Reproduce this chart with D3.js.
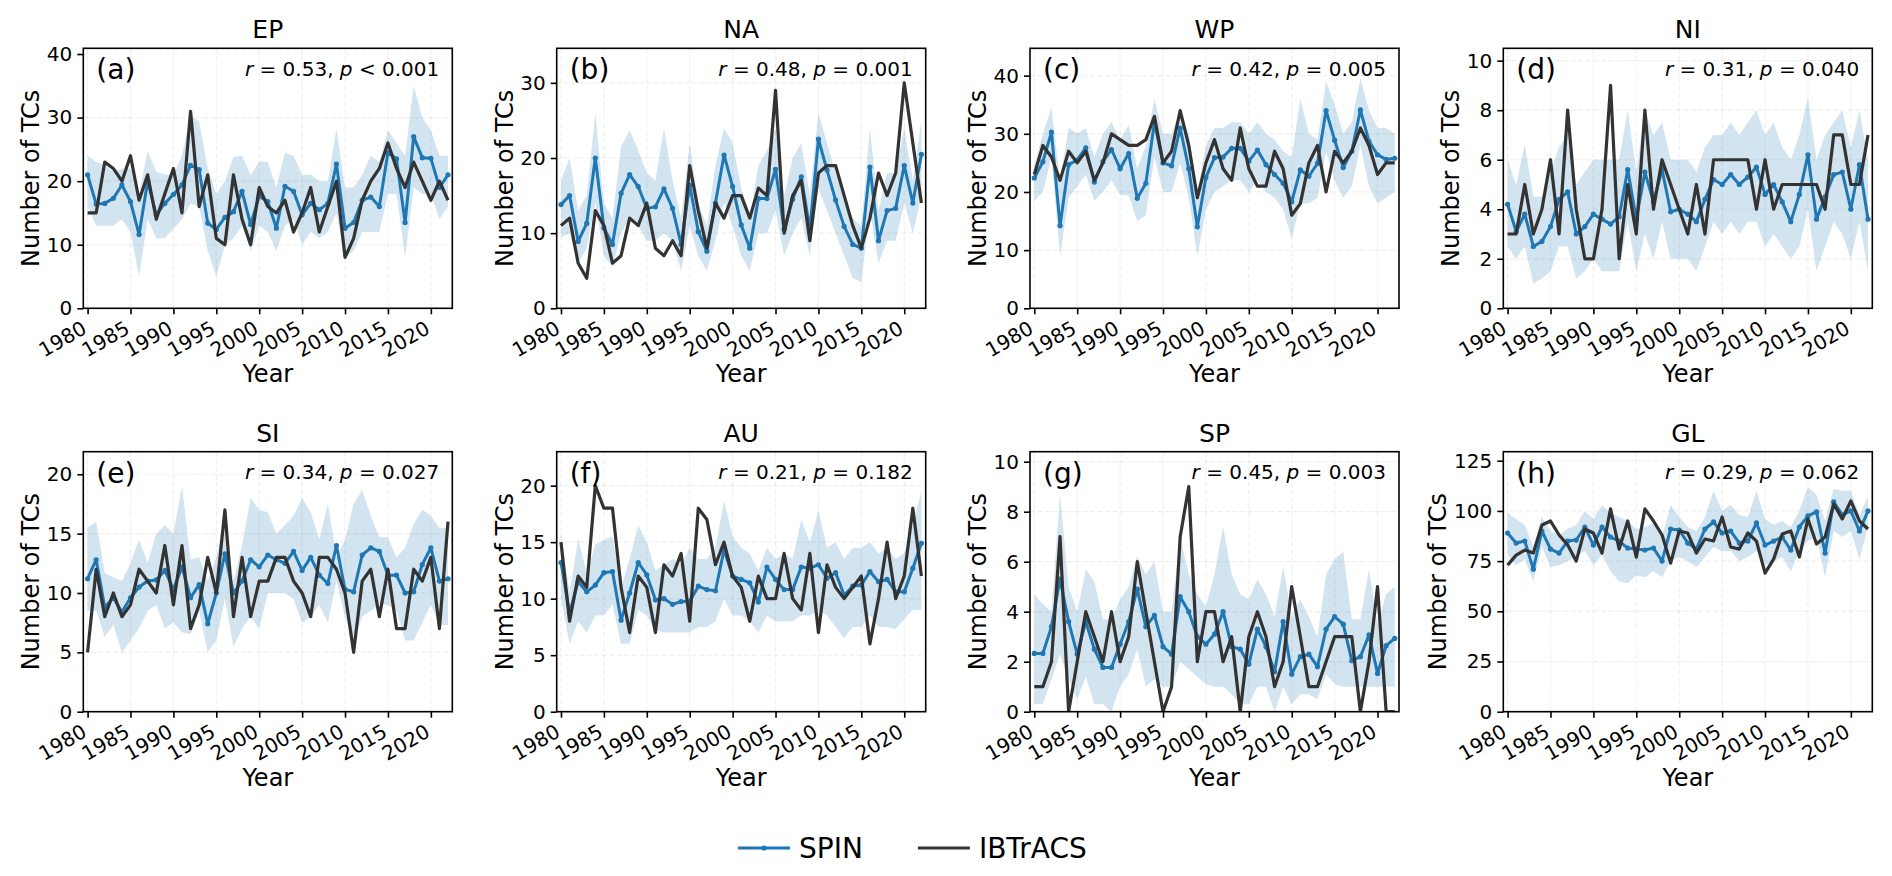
<!DOCTYPE html>
<html>
<head>
<meta charset="utf-8">
<script src="https://cdn.jsdelivr.net/npm/d3@7/dist/d3.min.js"></script>
<style>
  body { margin: 0; background: #fff; }
  svg { display: block; }
  text { font-family: "DejaVu Sans", sans-serif; fill: #000; }
</style>
</head>
<body>
<div id="chart"></div>
<script>
// ========== DATA ==========
const years = [1980, 1981, 1982, 1983, 1984, 1985, 1986, 1987, 1988, 1989,
  1990, 1991, 1992, 1993, 1994, 1995, 1996, 1997, 1998, 1999,
  2000, 2001, 2002, 2003, 2004, 2005, 2006, 2007, 2008, 2009,
  2010, 2011, 2012, 2013, 2014, 2015, 2016, 2017, 2018, 2019,
  2020, 2021, 2022];
const xTicks = [1980, 1985, 1990, 1995, 2000, 2005, 2010, 2015, 2020];

const regions = ["EP", "NA", "WP", "NI", "SI", "AU", "SP", "GL"];
const panelTags = ["(a)", "(b)", "(c)", "(d)", "(e)", "(f)", "(g)", "(h)"];
const rValues = ["0.53", "0.48", "0.42", "0.31", "0.34", "0.21", "0.45", "0.29"];
const pValues = ["< 0.001", "= 0.001", "= 0.005", "= 0.040", "= 0.027", "= 0.182", "= 0.003", "= 0.062"];
const yTicks = [
  [0, 10, 20, 30, 40], [0, 10, 20, 30], [0, 10, 20, 30, 40], [0, 2, 4, 6, 8, 10],
  [0, 5, 10, 15, 20], [0, 5, 10, 15, 20], [0, 2, 4, 6, 8, 10], [0, 25, 50, 75, 100, 125]
];
const yMax = [40.9, 34.6, 44.7, 10.5, 21.9, 23.0, 10.4, 129.5];

// EP
const spinEP = [21, 16.4, 16.5, 17.3, 19.4, 16.8, 11.6, 20, 14.7, 16.5, 17.9, 19.4, 22.5, 21.8, 13.4, 12.4, 14.3, 15.2, 18.4, 13.2, 17.6, 16.8, 12.6, 19.2, 18.4, 14.7, 16.5, 15.5, 16.5, 22.7, 12.6, 13.5, 17, 17.5, 16, 24.5, 23.5, 13.5, 27, 23.7, 23.6, 19, 21];
const loEP = [16, 13, 13, 13, 14, 12, 5, 14, 11, 11, 12.5, 14, 16.5, 16, 9, 5, 10, 11, 13, 9, 13, 12, 9, 13, 14, 10, 12, 11, 12, 15, 8, 9, 12, 12, 12, 18, 18, 8, 19, 18, 18, 14, 16];
const hiEP = [24, 23, 22.5, 21.5, 22, 22, 18, 24.7, 21.5, 21, 21, 24, 30.4, 29.4, 22, 18, 20, 23.8, 24, 21, 23.1, 23, 19, 24.5, 24, 21, 21, 20, 20, 28.2, 19, 19, 21, 24, 23, 28, 26, 24, 35, 30, 28, 24, 24];
const obsEP = [15, 15, 23, 22, 20, 24, 17, 21, 14, 18, 22, 15, 31, 16, 21, 11, 10, 21, 14, 10, 19, 16, 15, 17, 12, 15, 19, 12, 16, 20, 8, 11, 17, 20, 22, 26, 22, 19, 23, 20, 17, 20, 17];

// NA
const spinNA = [13.8, 15, 8.9, 11.3, 20, 10.7, 8.5, 15.3, 17.8, 16.2, 13.3, 13.5, 15.9, 13.3, 8.5, 16.4, 10.2, 7.6, 14, 20.4, 16.2, 11.1, 8, 14.6, 14.6, 18.5, 10.5, 14.5, 17.5, 10.5, 22.5, 18.4, 14.4, 10.9, 8.5, 8, 18.8, 9, 13, 13.3, 19, 14, 20.5];
const loNA = [9.5, 10, 6, 8, 14, 7, 5.5, 10, 12, 11, 9, 9, 10, 9, 5, 11, 7, 5, 9, 14, 11, 7, 5, 10, 10, 13, 7, 10, 12, 7, 16, 13, 10, 7, 4, 3.5, 13, 6, 9, 9, 14, 10, 15];
const hiNA = [17, 20, 13, 15, 26, 14, 12, 21.5, 23.7, 21, 18, 17, 24, 17, 12, 22, 14, 11, 19, 24, 22, 16, 12, 19, 21, 24, 15, 20, 22, 15, 26, 22, 18, 15, 12, 11, 24, 13, 18, 18, 24, 17, 25];
const obsNA = [11, 12, 6, 4, 13, 11, 6, 7, 12, 11, 14, 8, 7, 9, 7, 19, 13, 8, 14, 12, 15, 15, 12, 16, 15, 29, 10, 15, 17, 9, 18, 19, 19, 15, 11, 8, 12, 18, 15, 18, 30, 22, 14];

// WP
const spinWP = [22.4, 25.2, 30.3, 14.2, 24.7, 25.5, 27.6, 21.7, 25.2, 27.3, 24, 26.6, 18.9, 21.5, 32, 25, 24.5, 31, 24, 14, 22.5, 25.9, 26, 27.5, 27.5, 25.3, 27.2, 24.7, 23, 21.5, 18.3, 23.8, 22.7, 24.9, 34, 28.9, 24.2, 27, 34.1, 28.7, 26.4, 25.6, 25.8];
const loWP = [18.5, 20, 26, 9, 19, 21, 23, 18.5, 20, 22, 19.5, 19.5, 15, 16, 26, 20, 20, 25, 19, 9, 17, 20, 21, 22, 22, 20, 22, 20, 19, 17, 12, 18, 18, 19, 27, 22, 19, 21, 28, 21, 18, 19, 20];
const hiWP = [24.5, 30, 34.5, 22, 31, 30, 31, 26, 30, 32, 29, 31.5, 24, 28, 36, 30, 30, 34, 30, 20, 28, 31, 31, 32, 32, 30, 32, 30, 29, 27, 26, 36, 30, 29, 39, 35, 30, 32, 39.5, 34, 31, 31, 30];
const obsWP = [23, 28, 26, 22, 27, 25, 27, 22, 25, 30, 29, 28, 28, 29, 33, 25, 27, 34, 28, 19, 25, 29, 24, 22, 31, 24, 21, 21, 27, 24, 16, 18, 25, 28, 20, 27, 25, 27, 31, 28, 23, 25, 25];

// NI
const spinNI = [4.2, 3.1, 3.8, 2.5, 2.7, 3.3, 4.4, 4.7, 3, 3.3, 3.8, 3.6, 3.4, 3.7, 5.6, 3.6, 5.5, 4.3, 5.6, 3.9, 4, 3.8, 3.5, 4.4, 5.2, 5, 5.4, 5, 5.3, 5.7, 4.6, 5, 4.3, 3.5, 4.6, 6.2, 3.6, 4.5, 5.4, 5.5, 4, 5.8, 3.6];
const loNI = [2.5, 2, 2.5, 1, 1.2, 1.5, 2.5, 2.5, 1.2, 1.5, 2, 1.5, 1.5, 1.5, 3.5, 1.5, 3, 2, 3.5, 2, 2, 2, 1.5, 2.5, 3.5, 3, 3.5, 3, 3.5, 3.5, 2.5, 3, 2.5, 2, 2.5, 4, 1.5, 2.5, 3.5, 3, 2, 3.5, 1.5];
const hiNI = [6, 5, 6.6, 4.5, 4.5, 5.5, 6.5, 7, 5, 5.5, 6, 6, 6, 6, 8, 5.5, 8, 7, 7.5, 6, 6, 6, 5.5, 6.5, 7, 7, 7.5, 7, 7.5, 8, 7, 7.5, 6.5, 6, 7, 8.5, 6, 7, 7.5, 8, 6.5, 8, 6];
const obsNI = [3, 3, 5, 3, 4, 6, 3, 8, 4, 2, 2, 4, 9, 2, 5, 3, 8, 4, 6, 5, 4, 3, 5, 3, 6, 6, 6, 6, 6, 4, 6, 4, 5, 5, 5, 5, 5, 4, 7, 7, 5, 5, 7];

// SI
const spinSI = [11.2, 12.8, 8.8, 9.6, 8.4, 9.6, 10.5, 11, 11.1, 11.9, 10.3, 12.2, 9.6, 10.7, 7.4, 10, 13.3, 10, 11, 12.8, 12.2, 13.2, 12.8, 12.5, 13.5, 11.9, 13, 11.5, 10.8, 14, 10.3, 10.1, 13.2, 13.8, 13.5, 11.5, 11.5, 10, 10.1, 12.4, 13.8, 11, 11.2];
const loSI = [8.5, 8.5, 6.3, 7.3, 5, 6, 7, 8.5, 9, 7, 7.5, 6.7, 6.5, 8.5, 5, 6, 9.5, 5.5, 7, 8, 7, 10, 10, 10, 9.5, 7.5, 8, 9, 7.5, 11, 8, 6, 8, 8.5, 9, 9, 8.5, 6, 6, 7.5, 9, 7.3, 7.3];
const hiSI = [15.5, 16, 11.7, 11.3, 11, 12.5, 14.5, 12.5, 15, 15.7, 15, 19, 12.8, 13, 11, 13, 16.5, 11, 14, 18, 17, 16.8, 15, 15.7, 16.5, 18, 16.8, 14.5, 17.5, 13, 14.5, 17.5, 18.7, 16.5, 14.7, 14.7, 13, 13.8, 15.8, 17, 16.5, 15.5, 15.5];
const obsSI = [5, 12, 8, 10, 8, 9, 12, 11, 10, 14, 9, 14, 7, 9, 13, 10, 17, 8, 13, 8, 11, 11, 13, 13, 11, 10, 8, 13, 13, 12, 10, 5, 11, 12, 8, 12, 7, 7, 12, 11, 13, 7, 16];

// AU
const spinAU = [13.2, 8.7, 11.5, 10.6, 11.2, 12.3, 12.4, 8.1, 10.5, 13.2, 12.1, 9.9, 10, 9.5, 9.75, 9.75, 11.1, 10.8, 10.7, 14.3, 12, 11.7, 11.4, 9.7, 12.8, 11.7, 10.8, 10.8, 12.8, 12.7, 13, 11.8, 12.3, 10.3, 11.1, 11.2, 12.4, 11.5, 11.7, 10.6, 10.6, 12.7, 14.9];
const loAU = [10, 6, 8, 7, 8.5, 8.5, 9.5, 6, 6, 9, 8.5, 7.2, 7, 7, 7, 7, 7.5, 7.5, 8, 10, 8.5, 8.5, 8, 7, 8.5, 8, 8, 8, 8.5, 8.5, 9, 8.5, 7.5, 6.5, 7.5, 7.5, 8.5, 7.5, 7.5, 7.3, 8.2, 9, 9];
const hiAU = [15.8, 10.5, 15.3, 12.3, 14.8, 15.2, 15.5, 11, 13.5, 16.5, 15, 12.5, 13, 13.5, 13, 14.5, 13.5, 13.5, 14.5, 18.7, 15.5, 14.5, 14, 12.5, 14.5, 13.5, 14, 13.5, 17, 15, 17.8, 14.5, 15, 13.5, 14.5, 14.5, 15, 14, 14.5, 13.5, 14, 16.5, 19.5];
const obsAU = [15, 8, 12, 11, 20, 18, 18, 11, 7, 12, 11, 7, 13, 12, 14, 8, 18, 17, 13, 15, 12, 11, 8, 12, 10, 10, 14, 10, 9, 14, 7, 13, 11, 10, 11, 12, 6, 10, 15, 10, 12, 18, 12];

// SP
const spinSP = [2.33, 2.33, 3.4, 5.3, 3.6, 2.3, 3.6, 2.5, 1.77, 1.77, 2.7, 3.6, 4.9, 3.4, 3.85, 2.6, 2.3, 4.6, 4, 3, 2.7, 3.1, 4, 2.6, 2.5, 1.9, 3.3, 2.6, 1.6, 3.6, 1.5, 2.2, 2.3, 1.8, 3.3, 3.8, 3.5, 2.04, 2.2, 3.07, 1.53, 2.64, 2.93];
const loSP = [0.3, 0.3, 1.3, 2.3, 1.3, 0.5, 1.4, 0.3, 0.3, 0, 1, 1.5, 2.5, 1, 1.3, 1, 1, 2, 1.7, 1.4, 1.1, 1, 1, 0.7, 0.3, 0.3, 1, 1, 0, 1, 0.3, 0.7, 0.7, 0.5, 1.5, 1.1, 1, 1, 1, 1, 1, 1, 1];
const hiSP = [4.7, 4.3, 4, 8.7, 5, 4, 5.7, 5.2, 3.7, 3.7, 4.5, 5, 6.2, 5.5, 6, 4, 4, 7, 5.5, 4.7, 4.2, 5.5, 7.4, 5.5, 4.7, 4.5, 5.3, 4.7, 3.8, 5.8, 3.8, 4.5, 3.8, 3, 5.5, 6.1, 6.4, 3.7, 3.7, 5.7, 3.5, 4.7, 5];
const obsSP = [1, 1, 2, 7, 0, 2, 4, 3, 2, 4, 2, 3, 6, 4, 2, 0, 1, 7, 9, 2, 4, 4, 2, 3, 0, 3, 4, 3, 1, 2, 5, 3, 1, 1, 2, 3, 3, 3, 0, 2, 5, 0, 0];

// GL
const spinGL = [89, 84, 85, 71, 90, 81, 79, 85, 85.5, 92, 83, 92, 87, 85, 81.5, 81, 80.5, 81.5, 75, 91, 90.5, 84, 81, 91, 94.5, 89, 90, 84, 85, 94, 83, 85, 87, 80.5, 92, 97.5, 99.5, 79, 104.5, 98, 100, 90, 100];
const loGL = [78, 73, 76, 65, 82, 72, 73, 75, 77, 80, 73, 78, 70, 65, 64, 68, 67, 70, 67, 75, 77, 75, 72, 77, 82, 80, 80, 75, 77, 80, 73, 75, 77, 70, 80, 85, 87, 67, 90, 87, 90, 76, 92];
const hiGL = [99, 96, 93, 82, 97, 90, 88, 91, 93, 100, 96, 103, 99, 97, 95, 91, 92, 94, 87, 103, 97, 92, 90, 97, 110, 100, 103, 98, 97, 110, 96, 93, 95, 92, 100, 112, 108, 95, 111, 110, 110, 98, 107];
const obsGL = [73, 78, 80.5, 79, 93, 95, 88, 83, 75, 91, 89, 79, 101, 81, 95, 77, 101, 95, 88, 74, 90, 89, 79, 86, 85, 97, 82, 81, 89, 85, 69, 76, 88.5, 90, 77, 96, 83.5, 87, 103.5, 96, 105, 95, 91];

const spinSeries = [spinEP, spinNA, spinWP, spinNI, spinSI, spinAU, spinSP, spinGL];
const loSeries = [loEP, loNA, loWP, loNI, loSI, loAU, loSP, loGL];
const hiSeries = [hiEP, hiNA, hiWP, hiNI, hiSI, hiAU, hiSP, hiGL];
const obsSeries = [obsEP, obsNA, obsWP, obsNI, obsSI, obsAU, obsSP, obsGL];

// ========== LAYOUT ==========
const width = 1892, height = 876;
const panelLefts = [83.3, 556.7, 1030, 1503.3];
const panelTops = [48.3, 451.7];
const panelW = 369, panelH = 260;
const spinColor = "#1f77b4";
const obsColor = "#333333";

const svg = d3.select("#chart").append("svg")
  .attr("width", width)
  .attr("height", height)
  .attr("viewBox", `0 0 ${width} ${height}`);

function drawPanel(k) {
  const left = panelLefts[k % 4];
  const top = panelTops[Math.floor(k / 4)];
  const g = svg.append("g").attr("transform", `translate(${left},${top})`);

  const x = d3.scaleLinear().domain([1979.5, 2022.5]).range([0, panelW]);
  const y = d3.scaleLinear().domain([0, yMax[k]]).range([panelH, 0]);

  const clipId = `clip-${k}`;
  g.append("clipPath").attr("id", clipId)
    .append("rect").attr("width", panelW).attr("height", panelH);

  // faint dashed grid
  const grid = g.append("g").attr("class", "grid");
  grid.selectAll(".gx").data(xTicks).join("line")
    .attr("x1", d => x(d)).attr("x2", d => x(d))
    .attr("y1", 0).attr("y2", panelH);
  grid.selectAll(".gy").data(yTicks[k]).join("line")
    .attr("class", "gy")
    .attr("x1", 0).attr("x2", panelW)
    .attr("y1", d => y(d)).attr("y2", d => y(d));
  grid.selectAll("line")
    .style("stroke", "#b0b0b0")
    .style("stroke-opacity", 0.2)
    .style("stroke-width", 1.2)
    .style("stroke-dasharray", "5,2.5");

  const plot = g.append("g").attr("clip-path", `url(#${clipId})`);

  // uncertainty band
  const band = years.map((yr, i) => ({ yr, lo: loSeries[k][i], hi: hiSeries[k][i] }));
  plot.append("path")
    .datum(band)
    .attr("d", d3.area().x(d => x(d.yr)).y0(d => y(d.lo)).y1(d => y(d.hi)))
    .style("fill", spinColor)
    .style("fill-opacity", 0.2);

  // SPIN line with markers
  const spin = years.map((yr, i) => ({ yr, v: spinSeries[k][i] }));
  plot.append("path")
    .datum(spin)
    .attr("d", d3.line().x(d => x(d.yr)).y(d => y(d.v)))
    .style("fill", "none")
    .style("stroke", spinColor)
    .style("stroke-width", 3)
    .style("stroke-linejoin", "round");
  plot.selectAll(".dot").data(spin).join("circle")
    .attr("cx", d => x(d.yr)).attr("cy", d => y(d.v))
    .attr("r", 2.6)
    .style("fill", spinColor);

  // IBTrACS line
  const obs = years.map((yr, i) => ({ yr, v: obsSeries[k][i] }));
  plot.append("path")
    .datum(obs)
    .attr("d", d3.line().x(d => x(d.yr)).y(d => y(d.v)))
    .style("fill", "none")
    .style("stroke", obsColor)
    .style("stroke-width", 3.2)
    .style("stroke-linejoin", "round");

  // axes
  const xAxis = g.append("g")
    .attr("transform", `translate(0,${panelH})`)
    .call(d3.axisBottom(x).tickValues(xTicks).tickFormat(d3.format("d")).tickSize(6));
  xAxis.selectAll("text")
    .attr("y", null).attr("dy", null)
    .attr("transform", "translate(0,24) rotate(-30)")
    .style("text-anchor", "end")
    .style("font-size", "20px");

  const yAxis = g.append("g")
    .call(d3.axisLeft(y).tickValues(yTicks[k]).tickSize(6).tickPadding(5));
  yAxis.selectAll("text").style("font-size", "20px");

  [xAxis, yAxis].forEach(a => {
    a.select(".domain").remove();
    a.selectAll("line").style("stroke", "#000").style("stroke-width", 1.6);
  });

  // frame
  g.append("rect")
    .attr("width", panelW).attr("height", panelH)
    .style("fill", "none")
    .style("stroke", "#000")
    .style("stroke-width", 1.6);

  // title and labels
  g.append("text")
    .attr("x", panelW / 2).attr("y", -10)
    .style("text-anchor", "middle")
    .style("font-size", "25px")
    .text(regions[k]);

  g.append("text")
    .attr("x", 13).attr("y", 31)
    .style("font-size", "28px")
    .text(panelTags[k]);

  const stat = g.append("text")
    .attr("x", panelW - 13).attr("y", 27.5)
    .style("text-anchor", "end")
    .style("font-size", "20px");
  stat.append("tspan").style("font-style", "italic").text("r");
  stat.append("tspan").text(` = ${rValues[k]}, `);
  stat.append("tspan").style("font-style", "italic").text("p");
  stat.append("tspan").text(` ${pValues[k]}`);

  const labelOffset = yMax[k] > 100 ? 57 : 44;
  g.append("text")
    .attr("transform", `translate(${-labelOffset},${panelH / 2}) rotate(-90)`)
    .style("text-anchor", "middle")
    .style("font-size", "24px")
    .text("Number of TCs");

  g.append("text")
    .attr("x", panelW / 2).attr("y", panelH + 74)
    .style("text-anchor", "middle")
    .style("font-size", "24px")
    .text("Year");
}

regions.forEach((r, k) => drawPanel(k));

// ========== LEGEND ==========
const legendItems = [
  { name: "SPIN", color: spinColor, marker: true },
  { name: "IBTrACS", color: obsColor, marker: false }
];
const legend = svg.append("g").attr("transform", "translate(738,848)");
let lx = 0;
legendItems.forEach(item => {
  legend.append("line")
    .attr("x1", lx).attr("x2", lx + 52)
    .style("stroke", item.color)
    .style("stroke-width", 3);
  if (item.marker) {
    legend.append("circle").attr("cx", lx + 26).attr("r", 2.6).style("fill", item.color);
  }
  const t = legend.append("text")
    .attr("x", lx + 61).attr("dy", "0.35em")
    .style("font-size", "28px")
    .text(item.name);
  lx += 61 + t.node().getComputedTextLength() + 55;
});
</script>
</body>
</html>
